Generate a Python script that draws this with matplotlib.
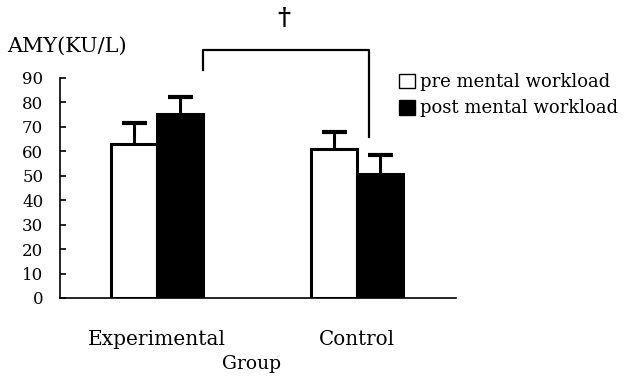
import numpy as np
import matplotlib.pyplot as plt
from matplotlib.patches import Patch

groups = ['Experimental', 'Control']
pre = [63.0, 61.0]
post = [75.3, 50.6]
pre_err = [8.7, 6.8]
post_err = [6.8, 7.8]

plt.rcParams['font.family'] = ['DejaVu Serif']

fig = plt.figure(figsize=(6.37, 3.77), dpi=100)
ax = fig.add_axes([60 / 637, 1 - 298 / 377, 396 / 637, 220 / 377])

x = np.arange(len(groups))
w = 0.23
ax.bar(x - w / 2, pre, w, color='white', edgecolor='black', linewidth=2.2)
ax.bar(x + w / 2, post, w, color='black', edgecolor='black', linewidth=2.2)

# upper-only error bars (hide the lower cap)
for xs, ys, es in [(x - w / 2, pre, pre_err), (x + w / 2, post, post_err)]:
    eb = ax.errorbar(xs, ys, yerr=[np.zeros(2), es], fmt='none', ecolor='black',
                     elinewidth=2.2, capsize=9, capthick=3)
    eb[1][0].set_visible(False)

ax.set_xlim(-0.485, 1.495)
ax.set_ylim(0, 90)
ax.set_yticks(range(0, 91, 10))
ax.set_xticks([])
for s in ['top', 'right']:
    ax.spines[s].set_visible(False)
ax.spines['left'].set_linewidth(1.2)
ax.spines['bottom'].set_linewidth(1.2)
ax.tick_params(axis='y', direction='in', length=4, width=1.2, labelsize=12, pad=12)

ax.text(0, -17, groups[0], ha='center', va='center', fontsize=14.5)
ax.text(1, -17, groups[1], ha='center', va='center', fontsize=14.3)
ax.text(0.475, -27, 'Group', ha='center', va='center', fontsize=13.5)

ax.text(-0.75, 103, 'AMY(KU/L)', ha='left', va='center', fontsize=15,
        clip_on=False)

# significance bracket
bx = [w, w, 1.06, 1.06]
by = [93.3, 101.5, 101.5, 65.9]
ax.plot(bx, by, color='black', linewidth=1.6, clip_on=False)
ax.text(0.635, 114.5, '†', ha='center', va='center', fontsize=18,
        fontweight='bold', clip_on=False)

handles = [Patch(facecolor='white', edgecolor='black', linewidth=1.0),
           Patch(facecolor='black', edgecolor='black', linewidth=1.0)]
fig.legend(handles, ['pre mental workload', 'post mental workload'],
           loc='upper left', bbox_to_anchor=(392 / 637, 1 - 66 / 377),
           frameon=False, fontsize=13, handlelength=0.9, handleheight=0.9,
           handletextpad=0.25, labelspacing=0.45, borderaxespad=0)

fig.savefig('out.png', dpi=100)
